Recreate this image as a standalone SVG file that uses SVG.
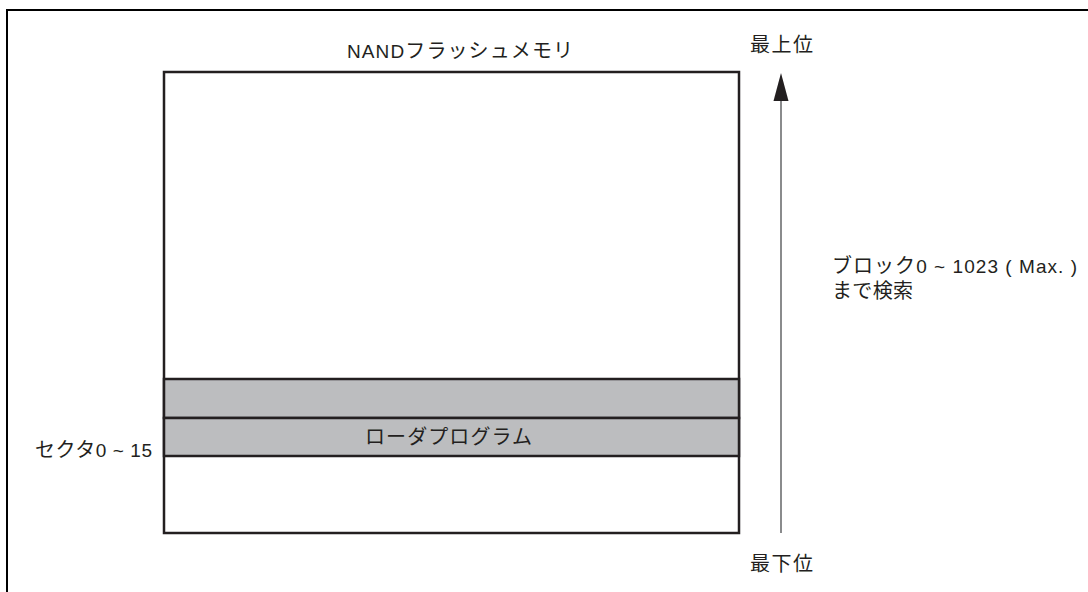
<svg xmlns="http://www.w3.org/2000/svg" width="1088" height="592" viewBox="0 0 1088 592">
<style>
text{font-family:"Liberation Sans","Noto Sans CJK JP",sans-serif;font-size:19px;fill:#231f20}
.j{font-family:"Noto Sans CJK JP",sans-serif;font-size:20px}
.box{fill:#fff;stroke:#231f20;stroke-width:2.5}
.band{fill:#bcbdbf;stroke:#231f20;stroke-width:2.5}
.arrow{stroke:#6d6e70;stroke-width:1.6;fill:none}
.head{fill:#231f20}
</style>
<path d="M7,600 V10 H1100" fill="none" stroke="#000" stroke-width="2"/>
<g id="flash">
<rect class="box" x="164" y="72" width="575" height="461"/>
<text x="347" y="58" textLength="226" lengthAdjust="spacing">NAND<tspan class="j">フラッシュメモリ</tspan></text>
</g>
<g id="band1">
<rect class="band" x="164" y="379" width="575" height="39"/>
</g>
<g id="loader">
<rect class="band" x="164" y="418" width="575" height="38"/>
<text class="j" x="365" y="444" textLength="167" lengthAdjust="spacing">ローダプログラム</text>
</g>
<g id="sector-label">
<text x="35" y="457" textLength="117" lengthAdjust="spacing"><tspan class="j">セクタ</tspan>0 ~ 15</text>
</g>
<g id="top-label"><text class="j" x="750" y="52" textLength="63" lengthAdjust="spacing">最上位</text></g>
<g id="bottom-label"><text class="j" x="750" y="571" textLength="63" lengthAdjust="spacing">最下位</text></g>
<g id="search-label">
<text x="832" y="273" textLength="245" lengthAdjust="spacing"><tspan class="j">ブロック</tspan>0 ~ 1023 ( Max. )</text>
<text class="j" x="832" y="298" textLength="81" lengthAdjust="spacing">まで検索</text>
</g>
<g id="connectors">
<line class="arrow" x1="781" y1="533" x2="781" y2="100"/>
<polygon class="head" points="781,73 788.5,101 773.5,101"/>
</g>
</svg>
